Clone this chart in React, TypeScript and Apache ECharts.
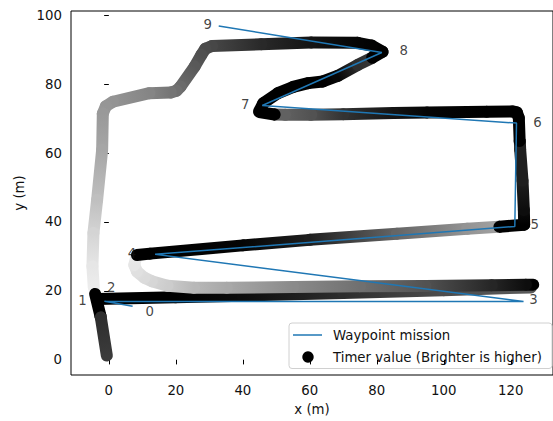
import React, { useEffect, useRef } from "react";
import * as echarts from "echarts";

// Axis ticks
const xTicks = [0, 20, 40, 60, 80, 100, 120];
const yTicks = [0, 20, 40, 60, 80, 100];

// Waypoint mission (metres)
const waypointNames = ["0", "1", "2", "3", "4", "5", "6", "7", "8", "9"];
const waypointX = [7.1, -1.3, -1.1, 123.8, 13.8, 121.2, 121.7, 45.8, 81.5, 32.8];
const waypointY = [15.5, 17.0, 16.9, 16.9, 30.6, 38.7, 68.7, 73.8, 89.2, 96.9];

// Flown track, leg by leg: [x (m), y (m), timer level 0..1]
const leg2to3 = [
  [-3.5, 17.6, 0], [20, 18.1, 0], [40, 18.6, 0.05], [70, 19.4, 0.18], [100, 20.2, 0.3], [126, 21.0, 0.35],
];
const leg3to4 = [
  [126.7, 21.8, 0], [124.5, 21.8, 0.05], [114.3, 21.6, 0.15], [94.5, 21.4, 0.32], [74.9, 21.3, 0.44],
  [55, 21.1, 0.54], [35.2, 20.9, 0.66], [25.4, 20.9, 0.72], [17.5, 21.5, 0.8], [12.8, 22.8, 0.84],
  [10.6, 23.8, 0.86], [8.4, 25.6, 0.88], [7.6, 27.5, 0.9], [8.2, 30.0, 0.92],
];
const leg4to5 = [
  [8.4, 30.4, 0], [12.3, 30.8, 0], [40, 33.2, 0.02], [60, 34.8, 0.12], [86, 36.6, 0.4], [107, 38.0, 0.58],
  [116.4, 38.6, 0.63], [116.6, 38.6, 0], [124, 39.2, 0],
];
const leg5to6 = [
  [124, 39.2, 0], [123.9, 43.5, 0.05], [123.5, 52, 0.12], [122.8, 61, 0.12], [122.7, 63.3, 0.12],
  [122.65, 63.5, 0], [122.4, 70.2, 0], [121.8, 71.8, 0], [120.5, 72.1, 0],
];
const leg6to7 = [
  [120.5, 72.1, 0], [112.8, 72.0, 0], [95, 71.8, 0.02], [85, 71.6, 0.08], [70, 71.3, 0.2], [60.4, 71.1, 0.32],
  [52.6, 71.1, 0.38], [49.6, 71.2, 0.38], [49.5, 71.2, 0], [44.9, 71.9, 0],
];
const leg7to8 = [
  [44.9, 72.2, 0], [46.1, 74.5, 0], [50.5, 77.4, 0], [55, 79.2, 0], [59.5, 80.3, 0], [63.9, 80.8, 0],
  [68.3, 82.4, 0.03], [74.3, 85.6, 0.18], [78.5, 87.6, 0.22], [78.6, 87.7, 0], [81.7, 89.4, 0],
];
const legReturn = [
  [81.7, 89.4, 0], [78.5, 91.2, 0.01], [74.3, 92.0, 0.02], [60.4, 92.1, 0.08], [45.5, 91.6, 0.16],
  [30.8, 91.1, 0.28], [28.8, 90.3, 0.29], [27.6, 88.5, 0.31], [25.6, 85.1, 0.35], [21.4, 79.3, 0.42],
  [20.2, 78.1, 0.44], [18.5, 77.6, 0.46], [12.1, 77.4, 0.52], [1.2, 74.9, 0.58], [-0.9, 73.6, 0.59],
  [-1.8, 71.5, 0.6], [-2.0, 60.9, 0.65], [-3.5, 46.4, 0.75], [-4.6, 36.8, 0.83], [-4.9, 27.1, 0.9],
  [-4.5, 20.9, 0.93],
];
const legLanding = [
  [-4.1, 19.1, 0], [-2.5, 12.7, 0], [-2.4, 12.3, 0.18], [-0.6, 1.2, 0.23],
];

const trackLegs = [leg2to3, leg3to4, leg4to5, leg5to6, leg6to7, leg7to8, legReturn, legLanding];

const FONT = "DejaVu Sans";
const TEXT = "#111";

function grey(level: number): string {
  const v = Math.round(Math.max(0, Math.min(1, level)) * 255);
  return `rgb(${v},${v},${v})`;
}

export default function App() {
  const ref = useRef<HTMLDivElement>(null);

  useEffect(() => {
    if (!ref.current) return;
    const chart = echarts.init(ref.current, null, { renderer: "svg" });

    // consecutive track vertices become gradient-stroked segments
    const segments: number[][] = [];
    trackLegs.forEach((leg) => {
      for (let i = 0; i < leg.length - 1; i++) {
        const a = leg[i];
        const b = leg[i + 1];
        segments.push([a[0], a[1], b[0], b[1], a[2], b[2]]);
      }
    });

    const mission = waypointX.map((x, i) => [x, waypointY[i]]);
    const labelOffsets = [
      [17, 5], [-22, -1], [6, -14], [10, -2], [-23, -1], [20, -2], [21, -1], [-17, -1], [22, -2], [-11, -1],
    ];

    chart.setOption({
      animation: false,
      backgroundColor: "#fff",
      grid: {
        left: 71,
        top: 11,
        right: -4,
        bottom: 45.7,
        show: true,
        borderColor: "#000",
        borderWidth: 1,
        backgroundColor: "transparent",
      },
      xAxis: {
        type: "value",
        min: -11.3,
        max: 132.6,
        name: "x (m)",
        nameLocation: "middle",
        nameGap: 28,
        nameTextStyle: { fontFamily: FONT, fontSize: 13.3, color: TEXT },
        axisLine: { show: false },
        splitLine: { show: false },
        axisTick: {
          show: true,
          length: 4.7,
          lineStyle: { color: "#000", width: 1 },
          customValues: xTicks,
        },
        axisLabel: {
          margin: 9,
          fontFamily: FONT,
          fontSize: 13.3,
          color: TEXT,
          customValues: xTicks,
        },
      },
      yAxis: {
        type: "value",
        min: -4.44,
        max: 101.25,
        name: "y (m)",
        nameLocation: "middle",
        nameGap: 45,
        nameTextStyle: { fontFamily: FONT, fontSize: 13.3, color: TEXT },
        axisLine: { show: false },
        splitLine: { show: false },
        axisTick: {
          show: true,
          length: 4.7,
          lineStyle: { color: "#000", width: 1 },
          customValues: yTicks,
        },
        axisLabel: {
          margin: 9,
          fontFamily: FONT,
          fontSize: 13.3,
          color: TEXT,
          customValues: yTicks,
        },
      },
      series: [
        {
          type: "custom",
          name: "Timer value (Brighter is higher)",
          dimensions: ["x1", "y1", "x2", "y2", "t1", "t2"],
          encode: { x: [0, 2], y: [1, 3] },
          clip: true,
          silent: true,
          data: segments,
          renderItem: (_params: any, api: any) => {
            const p1 = api.coord([api.value(0), api.value(1)]);
            const p2 = api.coord([api.value(2), api.value(3)]);
            const stroke = new echarts.graphic.LinearGradient(
              p1[0], p1[1], p2[0], p2[1],
              [
                { offset: 0, color: grey(api.value(4)) },
                { offset: 1, color: grey(api.value(5)) },
              ],
              true
            );
            return {
              type: "line",
              shape: { x1: p1[0], y1: p1[1], x2: p2[0], y2: p2[1] },
              style: { stroke, lineWidth: 12, lineCap: "round", fill: null },
            };
          },
        },
        {
          type: "line",
          name: "Waypoint mission",
          data: mission,
          showSymbol: false,
          symbol: "none",
          lineStyle: { color: "#1f77b4", width: 1.5 },
          silent: true,
          z: 3,
        },
        {
          type: "scatter",
          name: "waypoint labels",
          symbolSize: 1,
          itemStyle: { color: "rgba(0,0,0,0)" },
          silent: true,
          z: 4,
          data: mission.map((p, i) => ({
            value: p,
            name: waypointNames[i],
            label: {
              show: true,
              position: "inside",
              offset: labelOffsets[i],
              formatter: waypointNames[i],
              fontFamily: FONT,
              fontSize: 13.3,
              color: TEXT,
            },
          })),
        },
      ],
      graphic: [
        {
          type: "group",
          z: 100,
          children: [
            {
              type: "rect",
              shape: { x: 289, y: 323, width: 263, height: 45.5, r: 3 },
              style: { fill: "rgba(255,255,255,0.8)", stroke: "#d0d0d0", lineWidth: 1 },
            },
            {
              type: "line",
              shape: { x1: 293, y1: 335, x2: 322, y2: 335 },
              style: { stroke: "#1f77b4", lineWidth: 1.5 },
            },
            {
              type: "text",
              x: 333,
              y: 335,
              style: {
                text: "Waypoint mission",
                fontFamily: FONT,
                fontSize: 13.3,
                fill: TEXT,
                verticalAlign: "middle",
              },
            },
            {
              type: "circle",
              shape: { cx: 308, cy: 357, r: 5.7 },
              style: { fill: "#000" },
            },
            {
              type: "text",
              x: 333,
              y: 357,
              style: {
                text: "Timer value (Brighter is higher)",
                fontFamily: FONT,
                fontSize: 13.3,
                fill: TEXT,
                verticalAlign: "middle",
              },
            },
          ],
        },
      ],
    });

    return () => chart.dispose();
  }, []);

  return (
    <div
      ref={ref}
      style={{ position: "fixed", left: 0, top: 0, width: 553, height: 421, background: "#fff" }}
    />
  );
}
